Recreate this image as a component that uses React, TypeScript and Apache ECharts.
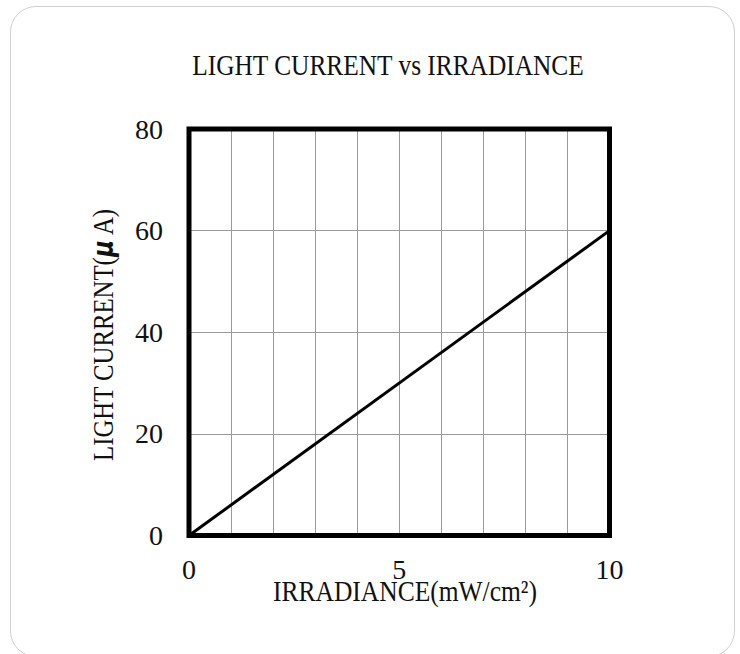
import React, { useEffect, useRef } from 'react';
import * as echarts from 'echarts';

// ---- data ----
const chartTitle = 'LIGHT CURRENT vs IRRADIANCE';
const xAxisName = 'IRRADIANCE(mW/cm²)';
const yAxisNameMain = 'LIGHT CURRENT(';
const yAxisNameUnit = 'A)';
const irradiance = [0, 10]; // mW/cm²
const lightCurrent = [0, 60]; // µA
const xLabeled = [0, 5, 10];
const xRange = [0, 10];
const yRange = [0, 80];
const xStep = 1;
const yStep = 20;

const SERIF = "'Liberation Serif', 'DejaVu Serif', serif";

export default function App() {
  const ref = useRef<HTMLDivElement>(null);

  useEffect(() => {
    if (!ref.current) return;
    const chart = echarts.init(ref.current, undefined, { renderer: 'svg' });
    const points = irradiance.map((x, i) => [x, lightCurrent[i]]);
    chart.setOption({
      animation: false,
      backgroundColor: 'transparent',
      grid: {
        left: 189,
        top: 129,
        width: 420.5,
        height: 406.5,
        show: true,
        z: 10,
        backgroundColor: 'rgba(0,0,0,0)',
        borderColor: '#000',
        borderWidth: 5,
      },
      xAxis: {
        type: 'value',
        min: xRange[0],
        max: xRange[1],
        interval: xStep,
        axisLine: { show: false },
        axisTick: { show: false },
        splitLine: { show: true, lineStyle: { color: '#9a9a9a', width: 1 } },
        axisLabel: {
          margin: 20,
          fontFamily: SERIF,
          fontSize: 28,
          color: '#111',
          formatter: (v: number) => (xLabeled.indexOf(v) >= 0 ? String(v) : ''),
        },
      },
      yAxis: {
        type: 'value',
        min: yRange[0],
        max: yRange[1],
        interval: yStep,
        axisLine: { show: false },
        axisTick: { show: false },
        splitLine: { show: true, lineStyle: { color: '#9a9a9a', width: 1 } },
        axisLabel: {
          margin: 26,
          fontFamily: SERIF,
          fontSize: 28,
          color: '#111',
        },
      },
      graphic: [
        {
          type: 'text',
          x: 388,
          y: 65,
          scaleX: 0.875,
          style: {
            text: chartTitle,
            fontFamily: SERIF,
            fontSize: 29,
            fill: '#111',
            textAlign: 'center',
            textVerticalAlign: 'middle',
          },
        },
        {
          type: 'text',
          x: 405,
          y: 591,
          scaleX: 0.85,
          style: {
            text: xAxisName,
            fontFamily: SERIF,
            fontSize: 30,
            fill: '#111',
            textAlign: 'center',
            textVerticalAlign: 'middle',
          },
        },
        {
          type: 'text',
          x: 103,
          y: 335,
          rotation: Math.PI / 2,
          scaleX: 0.825,
          style: {
            text: yAxisNameMain + '{mu|μ}' + yAxisNameUnit,
            fontFamily: SERIF,
            fontSize: 30,
            fill: '#111',
            textAlign: 'center',
            textVerticalAlign: 'middle',
            rich: {
              mu: {
                fontFamily: "'DejaVu Sans', sans-serif",
                fontStyle: 'italic',
                fontWeight: 'bold',
                fontSize: 28,
                fill: '#111',
                padding: [0, 6, 0, 0],
              },
            },
          },
        },
      ],
      series: [
        {
          type: 'line',
          data: points,
          symbol: 'none',
          lineStyle: { color: '#000', width: 3 },
          z: 2,
        },
      ],
    });
    return () => chart.dispose();
  }, []);

  return (
    <div
      style={{
        position: 'fixed',
        left: 0,
        top: 0,
        width: 740,
        height: 654,
        overflow: 'hidden',
        background: '#fff',
      }}
    >
      <div
        style={{
          position: 'absolute',
          left: 10,
          top: 6,
          width: 725,
          height: 651,
          boxSizing: 'border-box',
          border: '1px solid #d0d0d0',
          borderRadius: 26,
        }}
      />
      <div ref={ref} style={{ position: 'absolute', left: 0, top: 0, width: 740, height: 654 }} />
    </div>
  );
}
